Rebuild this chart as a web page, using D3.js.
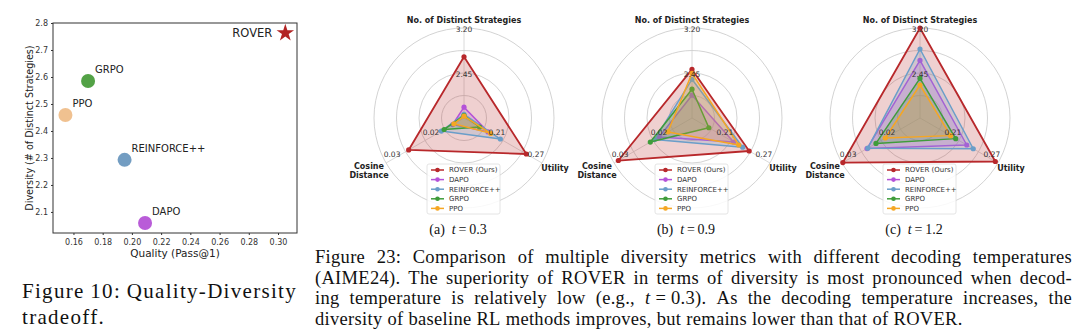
<!DOCTYPE html>
<html>
<head>
<meta charset="utf-8">
<style>
  body { margin: 0; background: #fff; }
  svg { display: block; }
  .mpl { font-family: "DejaVu Sans", sans-serif; }
  .cap { font-family: "Liberation Serif", "DejaVu Serif", serif; fill: #111; }
</style>
</head>
<body>
<script src="https://cdn.jsdelivr.net/npm/d3@7"></script>
<script>
// quality / diversity scatter
var scatterMethods = ["ROVER", "GRPO", "PPO", "REINFORCE++", "DAPO"];
var scatterQuality = [0.305, 0.170, 0.1545, 0.195, 0.209];
var scatterDiversity = [2.763, 2.585, 2.459, 2.293, 2.059];
var scatterColors = ["#b22424", "#4a9d3c", "#efbe8a", "#6b98bf", "#b553d6"];
var qualityTicks = [0.16, 0.18, 0.20, 0.22, 0.24, 0.26, 0.28, 0.30];
var diversityTicks = [2.1, 2.2, 2.3, 2.4, 2.5, 2.6, 2.7, 2.8];

// radar panels, one row per temperature, one column per method
var radarMethods = ["ROVER (Ours)", "DAPO", "REINFORCE++", "GRPO", "PPO"];
var radarColors = ["#b8282b", "#b452d8", "#6a9ec9", "#3f9c3a", "#f5a623"];
var temperatures = ["0.3", "0.9", "1.2"];
var panelLetters = ["a", "b", "c"];
var distinctStrategies = [
  [2.72, 1.88, 1.76, 1.74, 1.73],
  [2.51, 2.08, 2.345, 2.18, 2.445],
  [3.20, 2.66, 2.85, 2.36, 2.25]
];
var cosineDistance = [
  [0.0242, 0.0129, 0.0158, 0.0151, 0.0126],
  [0.0289, 0.0184, 0.0196, 0.0207, 0.0162],
  [0.0298, 0.0236, 0.0234, 0.0213, 0.0189]
];
var utility = [
  [0.246, 0.187, 0.206, 0.174, 0.191],
  [0.238, 0.214, 0.228, 0.176, 0.222],
  [0.266, 0.222, 0.232, 0.205, 0.197]
];
var strategyTicks = ["2.45", "3.20"];
var cosineTicks = ["0.02", "0.03"];
var utilityTicks = ["0.21", "0.27"];

var svg = d3.select("body").append("svg")
  .attr("width", 1080).attr("height", 335);

/* ---------- scatter ---------- */
var sx = d3.scaleLinear().domain([0.146, 0.313]).range([53, 297]);
var sy = d3.scaleLinear().domain([2.022, 2.80]).range([233, 23]);
var sc = svg.append("g").attr("class", "mpl");

var xAx = sc.append("g").attr("transform", "translate(0,233)")
  .call(d3.axisBottom(sx).tickValues(qualityTicks).tickFormat(d3.format(".2f")).tickSize(2).tickPadding(4));
var yAx = sc.append("g").attr("transform", "translate(53,0)")
  .call(d3.axisLeft(sy).tickValues(diversityTicks).tickFormat(d3.format(".1f")).tickSize(2).tickPadding(3));
[xAx, yAx].forEach(function(a){
  a.select(".domain").remove();
  a.selectAll("text").attr("font-size", 8).attr("fill", "#333").attr("font-family", "DejaVu Sans");
  a.selectAll("line").attr("stroke", "#333");
});
sc.append("rect").attr("x", 53).attr("y", 23).attr("width", 244).attr("height", 210)
  .attr("fill", "none").attr("stroke", "#333").attr("stroke-width", 1);

sc.append("text").attr("x", 175).attr("y", 257).attr("text-anchor", "middle")
  .attr("font-size", 10.5).attr("fill", "#222").text("Quality (Pass@1)");
sc.append("text").attr("transform", "translate(30,128) rotate(-90)").attr("text-anchor", "middle")
  .attr("dy", "0.35em").attr("font-size", 9.6).attr("fill", "#222").text("Diversity (# of Distinct Strategies)");

scatterMethods.forEach(function(m, i){
  var px = sx(scatterQuality[i]), py = sy(scatterDiversity[i]);
  if (i === 0) {
    sc.append("path").attr("d", d3.symbol().type(d3.symbolStar).size(95)())
      .attr("transform", "translate(" + px + "," + py + ")").attr("fill", scatterColors[i]);
    sc.append("text").attr("x", px - 13).attr("y", py + 4).attr("text-anchor", "end")
      .attr("font-size", 11.5).attr("fill", "#222").text(m);
  } else {
    sc.append("circle").attr("cx", px).attr("cy", py).attr("r", 7)
      .attr("fill", scatterColors[i]).attr("fill-opacity", 0.95);
    sc.append("text").attr("x", px + 7).attr("y", py - 8)
      .attr("font-size", 10).attr("fill", "#222").text(m);
  }
});

/* ---------- radar panels ---------- */
var R = 90, cy = 118;
var centersX = [464, 692, 920];
// spokes: strategies up, cosine distance lower left, utility lower right
var angles = [90, 210, 330].map(function(a){ return a * Math.PI / 180; });
var rStrat = d3.scaleLinear().domain([1.70, 3.20]).range([0, R]);
var rCos = d3.scaleLinear().domain([0.01, 0.03]).range([0, R]);
var rUtil = d3.scaleLinear().domain([0.15, 0.27]).range([0, R]);
var axisScales = [rStrat, rCos, rUtil];
var axisTicks = [strategyTicks, cosineTicks, utilityTicks];

function polar(cx, ang, r) {
  return [cx + r * Math.cos(ang), cy - r * Math.sin(ang)];
}

temperatures.forEach(function(t, ti){
  var cx = centersX[ti];
  var g = svg.append("g").attr("class", "mpl");

  [0.25, 0.5, 0.75, 1].forEach(function(f){
    g.append("circle").attr("cx", cx).attr("cy", cy).attr("r", R * f)
      .attr("fill", "none").attr("stroke", "#c8c8c8").attr("stroke-width", 0.8);
  });
  angles.forEach(function(a){
    var p = polar(cx, a, R);
    g.append("line").attr("x1", cx).attr("y1", cy).attr("x2", p[0]).attr("y2", p[1])
      .attr("stroke", "#d0d0d0").attr("stroke-width", 0.8);
  });

  radarMethods.forEach(function(m, mi){
    var vals = [distinctStrategies[ti][mi], cosineDistance[ti][mi], utility[ti][mi]];
    var pts = vals.map(function(v, k){ return polar(cx, angles[k], axisScales[k](v)); });
    g.append("path").attr("d", d3.line()(pts) + "Z")
      .attr("fill", radarColors[mi]).attr("fill-opacity", 0.22)
      .attr("stroke", radarColors[mi]).attr("stroke-width", mi === 0 ? 1.8 : 1.5)
      .attr("stroke-linejoin", "round");
    pts.forEach(function(p){
      g.append("circle").attr("cx", p[0]).attr("cy", p[1]).attr("r", 2.6).attr("fill", radarColors[mi]);
    });
  });

  // tick values along each spoke (half and full radius)
  axisTicks.forEach(function(ticks, k){
    ticks.forEach(function(lbl){
      var p = polar(cx, angles[k], axisScales[k](+lbl));
      var dx = k === 0 ? 0 : (k === 1 ? 6 : -6);
      var dy = k === 0 ? 1.5 : -8.5;
      g.append("text").attr("x", p[0] + dx).attr("y", p[1] + dy).attr("dy", "0.35em")
        .attr("text-anchor", "middle").attr("font-size", 7.5).attr("fill", "#333").text(lbl);
    });
  });

  g.append("text").attr("x", cx).attr("y", 20).attr("dy", "0.35em").attr("text-anchor", "middle")
    .attr("font-size", 8).attr("font-weight", "bold").attr("fill", "#222").text("No. of Distinct Strategies");
  var cl = g.append("text").attr("x", cx - 95).attr("y", 166).attr("text-anchor", "middle")
    .attr("font-size", 8).attr("font-weight", "bold").attr("fill", "#222");
  cl.append("tspan").attr("x", cx - 95).attr("dy", "0.35em").text("Cosine");
  cl.append("tspan").attr("x", cx - 95).attr("dy", "1.15em").text("Distance");
  g.append("text").attr("x", cx + 91).attr("y", 168).attr("dy", "0.35em").attr("text-anchor", "middle")
    .attr("font-size", 8).attr("font-weight", "bold").attr("fill", "#222").text("Utility");

  // legend
  var lg = g.append("g").attr("transform", "translate(" + (cx - 37) + ",164)");
  lg.append("rect").attr("width", 73).attr("height", 50).attr("rx", 2)
    .attr("fill", "#fff").attr("fill-opacity", 0.85).attr("stroke", "#ddd").attr("stroke-width", 0.8);
  radarMethods.forEach(function(m, mi){
    var yy = 6 + mi * 9.6;
    lg.append("line").attr("x1", 4).attr("x2", 17).attr("y1", yy).attr("y2", yy)
      .attr("stroke", radarColors[mi]).attr("stroke-width", 1.5);
    lg.append("circle").attr("cx", 10.5).attr("cy", yy).attr("r", 2.3).attr("fill", radarColors[mi]);
    lg.append("text").attr("x", 22).attr("y", yy).attr("dy", "0.35em")
      .attr("font-size", 7).attr("fill", "#333").text(m);
  });

  // sub caption
  var sub = svg.append("text").attr("class", "cap").attr("x", cx - 6).attr("y", 234)
    .attr("text-anchor", "middle").attr("font-size", 14);
  sub.append("tspan").text("(" + panelLetters[ti] + ")\u2002");
  sub.append("tspan").attr("font-style", "italic").text("t");
  sub.append("tspan").text("\u2009=\u2009" + t);
});

/* ---------- captions ---------- */
function token(parent, parts, y, size, spacing) {
  var tx = parent.append("text").attr("class", "cap").attr("x", 0).attr("y", y)
    .attr("font-size", size).attr("letter-spacing", spacing);
  parts.forEach(function(p){
    var s = tx.append("tspan").text(p[0]);
    if (p[1]) s.attr("font-style", "italic");
  });
  return tx;
}

function captionLine(tokens, x0, x1, y, size, spacing, justify) {
  var els = tokens.map(function(tk){
    return token(svg, typeof tk === "string" ? [[tk]] : tk, y, size, spacing);
  });
  var widths = els.map(function(e){ return e.node().getComputedTextLength(); });
  var total = d3.sum(widths);
  var gap = justify ? (x1 - x0 - total) / (tokens.length - 1) : size * 0.27;
  var x = x0;
  els.forEach(function(e, i){ e.attr("x", x); x += widths[i] + gap; });
}

function words(s) { return s.split(" "); }

captionLine(words("Figure 10: Quality-Diversity"), 22, 297, 298, 21, 1.3, true);
captionLine(words("tradeoff."), 22, 297, 324, 21, 1.3, false);

var capX0 = 315, capX1 = 1072, capSize = 18.5, capSp = 0.3;
captionLine(words("Figure 23: Comparison of multiple diversity metrics with different decoding temperatures"),
  capX0, capX1, 263, capSize, capSp, true);
captionLine(words("(AIME24). The superiority of ROVER in terms of diversity is most pronounced when decod-"),
  capX0, capX1, 283.5, capSize, capSp, true);
captionLine(words("ing temperature is relatively low (e.g.,")
    .concat([[["t", true], ["\u2005=\u20050.3)."]]])
    .concat(words("As the decoding temperature increases, the")),
  capX0, capX1, 304, capSize, capSp, true);
captionLine(words("diversity of baseline RL methods improves, but remains lower than that of ROVER."),
  capX0, capX1, 324.5, capSize, capSp, false);
</script>
</body>
</html>
